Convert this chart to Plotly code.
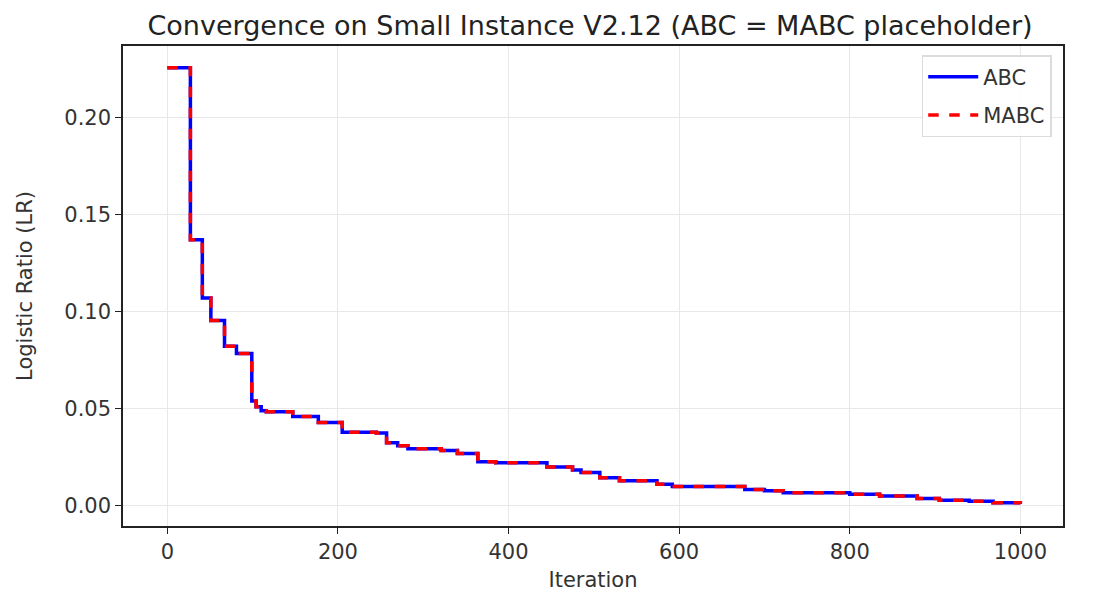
import plotly.graph_objects as go

# Step points (iteration where value changes, new value)
iterations = [0, 27, 41, 51, 67, 81, 99, 104, 110, 116, 147, 177, 205, 245, 257, 270, 282,
              321, 340, 364, 385, 445, 475, 485, 507, 530, 574, 592, 677, 700, 722, 800,
              835, 879, 905, 940, 968, 1000]
abc_values = [0.2255, 0.137, 0.107, 0.0955, 0.0822, 0.0785, 0.054, 0.051, 0.049, 0.0485,
              0.046, 0.043, 0.038, 0.0375, 0.0325, 0.031, 0.0295, 0.0285, 0.027, 0.0228,
              0.0222, 0.020, 0.0185, 0.0172, 0.0145, 0.013, 0.0112, 0.0100, 0.0085, 0.0078,
              0.0068, 0.0060, 0.0052, 0.0038, 0.0030, 0.0025, 0.0017, 0.0012]
mabc_values = list(abc_values)

x_ticks = [0, 200, 400, 600, 800, 1000]
y_ticks = [0.00, 0.05, 0.10, 0.15, 0.20]

FONT = "DejaVu Sans"

fig = go.Figure()
fig.add_trace(go.Scatter(x=iterations, y=abc_values, mode="lines", name="ABC",
                         legendgroup="a",
                         line=dict(color="blue", width=3.5, shape="hv")))
fig.add_trace(go.Scatter(x=iterations, y=mabc_values, mode="lines", name="MABC",
                         legendgroup="b",
                         line=dict(color="red", width=3.5, shape="hv", dash="dash")))

axis_common = dict(showline=True, linecolor="#222", linewidth=1.5, mirror=True,
                   ticks="outside", ticklen=6, tickcolor="#222", tickwidth=1.2,
                   showgrid=True, gridcolor="#e8e8e8", gridwidth=1.2, zeroline=False,
                   tickfont=dict(family=FONT, size=21, color="#333"))

fig.update_layout(
    width=1095, height=593,
    margin=dict(l=115, r=40, t=38, b=75),
    paper_bgcolor="white", plot_bgcolor="white",
    title=dict(text="Convergence on Small Instance V2.12 (ABC = MABC placeholder)",
               x=0.5315, xanchor="center", y=0.97, yanchor="middle",
               font=dict(family=FONT, size=27, color="#222")),
    xaxis=dict(range=[-52, 1050], tickvals=x_ticks, ticktext=[str(v) for v in x_ticks],
               title=dict(text="Iteration", font=dict(family=FONT, size=21, color="#333"),
                          standoff=9),
               **axis_common),
    yaxis=dict(range=[-0.0103, 0.2367], tickvals=y_ticks,
               ticktext=[f"{v:.2f}" for v in y_ticks],
               title=dict(text="Logistic Ratio (LR)", font=dict(family=FONT, size=21, color="#333"),
                          standoff=26),
               **axis_common),
    legend=dict(x=0.988, y=0.981, xanchor="right", yanchor="top",
                bgcolor="rgba(255,255,255,0.9)", bordercolor="#dcdcdc", borderwidth=1.5,
                font=dict(family=FONT, size=21, color="#333"),
                tracegroupgap=8, itemwidth=50),
    showlegend=True,
)

fig.write_html("out.html")
